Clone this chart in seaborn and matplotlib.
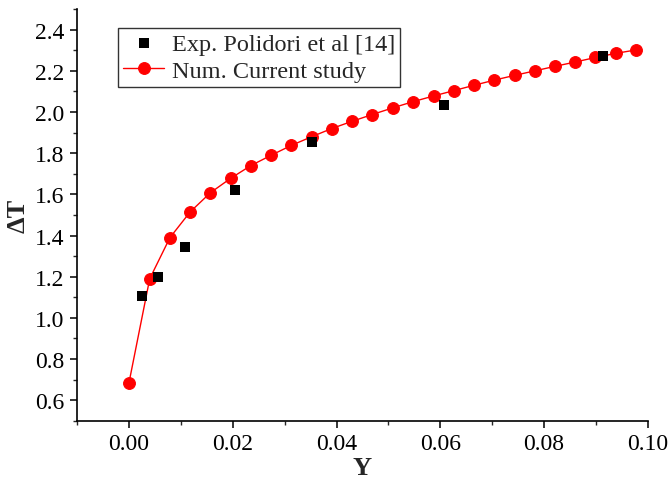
import matplotlib
matplotlib.use("Agg")
import matplotlib.pyplot as plt
import numpy as np
import pandas as pd
import seaborn as sns
from matplotlib.ticker import MultipleLocator, FormatStrFormatter

# Experimental data (Polidori et al)
exp_y = [0.0026, 0.0056, 0.0108, 0.0205, 0.0353, 0.0607, 0.0913]
exp_dt = [1.105, 1.200, 1.346, 1.623, 1.853, 2.034, 2.273]

# Numerical data (current study)
num_y = [0.0000, 0.0040, 0.0079, 0.0118, 0.0157, 0.0196, 0.0235, 0.0274,
         0.0313, 0.0352, 0.0391, 0.0430, 0.0469, 0.0508, 0.0547, 0.0587,
         0.0626, 0.0665, 0.0704, 0.0743, 0.0782, 0.0821, 0.0860, 0.0899,
         0.0938, 0.0978]
num_dt = [0.684, 1.190, 1.390, 1.515, 1.608, 1.678, 1.740, 1.790,
          1.838, 1.880, 1.920, 1.955, 1.988, 2.020, 2.050, 2.078,
          2.104, 2.130, 2.155, 2.178, 2.200, 2.222, 2.243, 2.265,
          2.285, 2.302]

exp_df = pd.DataFrame({"Y": exp_y, "dT": exp_dt})
num_df = pd.DataFrame({"Y": num_y, "dT": num_dt})

sns.set_style("ticks")
plt.rcParams["font.family"] = ["Liberation Serif", "DejaVu Serif"]

fig = plt.figure(figsize=(6.7, 4.81), dpi=100)
ax = fig.add_axes([0.115, 0.123, 0.852, 0.856])

sns.scatterplot(data=exp_df, x="Y", y="dT", ax=ax, marker="s", color="black",
                s=45, edgecolor="black", linewidth=0, zorder=3,
                label="Exp. Polidori et al [14]")
sns.lineplot(data=num_df, x="Y", y="dT", ax=ax, color="red", marker="o",
             markersize=8.5, markeredgecolor="red", linewidth=1, zorder=2,
             label="Num. Current study")

ax.set_xlim(-0.01, 0.10)
ax.set_ylim(0.5, 2.5)
ax.xaxis.set_major_locator(MultipleLocator(0.02))
ax.xaxis.set_minor_locator(MultipleLocator(0.01))
ax.yaxis.set_major_locator(MultipleLocator(0.2))
ax.yaxis.set_minor_locator(MultipleLocator(0.1))
ax.xaxis.set_major_formatter(FormatStrFormatter("%.2f"))
ax.yaxis.set_major_formatter(FormatStrFormatter("%.1f"))

for s in ["top", "right"]:
    ax.spines[s].set_visible(False)
for s in ["left", "bottom"]:
    ax.spines[s].set_linewidth(1.2)
    ax.spines[s].set_color("black")

ax.tick_params(which="major", direction="out", length=5, width=1.1,
               labelsize=17, colors="black", pad=4)
ax.tick_params(which="minor", direction="out", length=3, width=1.0)

ax.set_xlabel("Y", fontsize=19, fontweight="bold", labelpad=1)
ax.set_ylabel("ΔT", fontsize=19, fontweight="bold", labelpad=4)

leg = ax.legend(loc="upper left", bbox_to_anchor=(0.072, 0.955), fontsize=17.5,
                frameon=True, fancybox=False, edgecolor="black",
                borderpad=0.2, handlelength=1.7, handletextpad=0.3,
                labelspacing=0.22, borderaxespad=0)
leg.get_frame().set_linewidth(1.0)

fig.savefig("out.png", dpi=100)
